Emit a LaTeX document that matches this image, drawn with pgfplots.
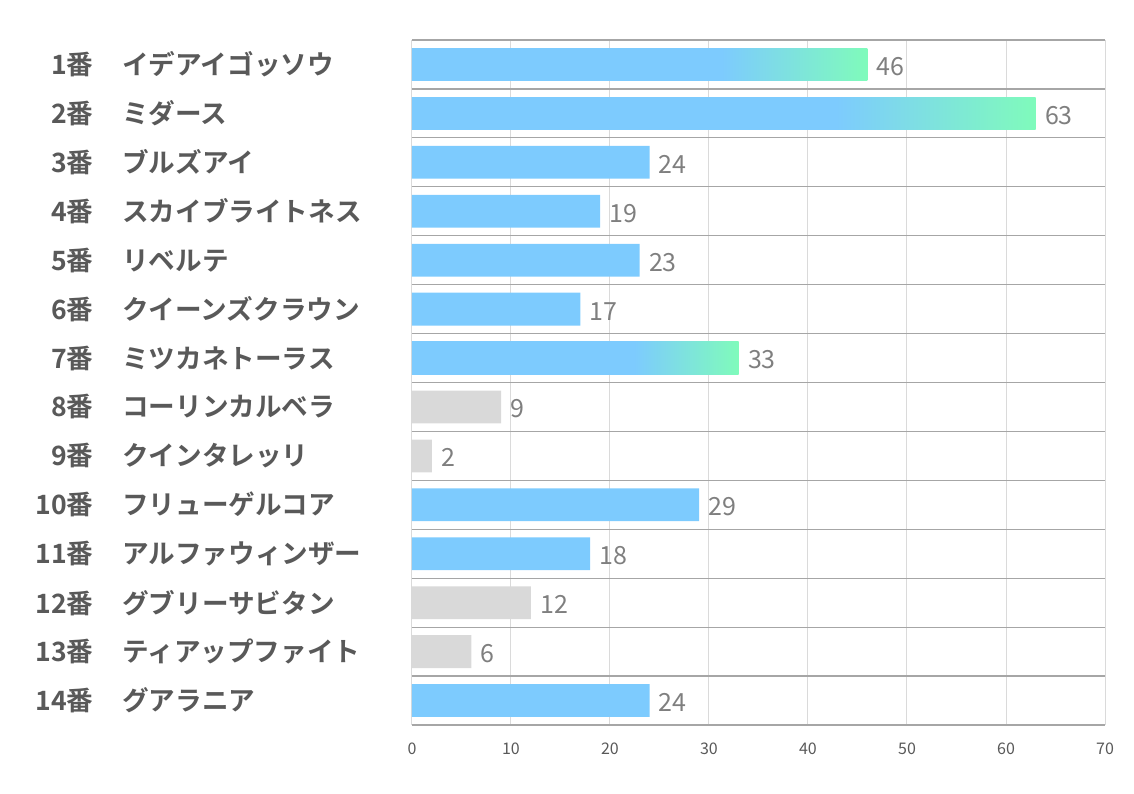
\documentclass[border=0pt]{standalone}
\usepackage{fontspec}
\setmainfont{Noto Sans CJK JP}[BoldFont={Noto Sans CJK JP Bold}]
\usepackage{pgfplots}
\pgfplotsset{compat=1.18}
\definecolor{cBlue}{HTML}{7DCBFE}
\definecolor{cGreen}{HTML}{7FFBBB}
\definecolor{cGray}{HTML}{D9D9D9}
\definecolor{cLine}{HTML}{A6A6A6}
\definecolor{cGrid}{HTML}{DADADA}
\definecolor{cText}{HTML}{595959}
\definecolor{cVal}{HTML}{7F7F7F}
\pgfdeclarehorizontalshading{bluegreen}{100bp}{color(0bp)=(cBlue); color(25bp)=(cBlue); color(59bp)=(cBlue); color(75bp)=(cGreen); color(100bp)=(cGreen)}
\newcommand{\lab}[2]{\makebox[26.5pt][r]{#1}\hspace{14.5pt}#2}

\begin{document}
\begin{tikzpicture}
\begin{axis}[
  name=ax, at={(0,0)}, anchor=south west,
  scale only axis, width=346.5pt, height=342.5pt,
  xbar, bar width=0.67, bar shift=0pt,
  xmin=0, xmax=70, ymin=0.5, ymax=14.5, y dir=reverse,
  xtick={0,10,...,70}, ytick={1,...,14},
  minor ytick={0.5,1.5,...,14.5},
  yticklabels={\lab{1番}{イデアイゴッソウ},\lab{2番}{ミダース},\lab{3番}{ブルズアイ},\lab{4番}{スカイブライトネス},\lab{5番}{リベルテ},\lab{6番}{クイーンズクラウン},\lab{7番}{ミツカネトーラス},\lab{8番}{コーリンカルベラ},\lab{9番}{クインタレッリ},\lab{10番}{フリューゲルコア},\lab{11番}{アルファウィンザー},\lab{12番}{グブリーサビタン},\lab{13番}{ティアップファイト},\lab{14番}{グアラニア}},
  yminorgrids, xmajorgrids,
  minor grid style={draw=cLine, line width=0.6pt},
  major grid style={draw=cGrid, line width=0.5pt},
  major tick length=0pt, minor tick length=0pt,
  axis line style={draw=none},
  /pgf/number format/assume math mode=true,
  yticklabel style={anchor=west, xshift=-186pt, inner sep=0pt, font=\bfseries\fontsize{13.3}{15}\selectfont, text=cText},
  xticklabel style={font=\fontsize{8}{10}\selectfont, text=cText, yshift=-5.5pt},
  nodes near coords,
  nodes near coords style={font=\fontsize{12.5}{14}\selectfont, text=cVal, anchor=west, inner sep=1pt, xshift=3.5pt, yshift=-1pt},
]
\addplot[draw=none, fill=cBlue] coordinates {(24,3)(19,4)(23,5)(17,6)(29,10)(18,11)(24,14)};
\addplot[draw=none, fill=cGray] coordinates {(9,8)(2,9)(12,12)(6,13)};
\addplot[draw=none, shade, shading=bluegreen] coordinates {(46,1)};
\addplot[draw=none, shade, shading=bluegreen] coordinates {(63,2)};
\addplot[draw=none, shade, shading=bluegreen] coordinates {(33,7)};
\end{axis}
\path ([shift={(-206pt,-34pt)}]ax.south west) rectangle ([shift={(14.5pt,20pt)}]ax.north east);
\end{tikzpicture}
\end{document}
